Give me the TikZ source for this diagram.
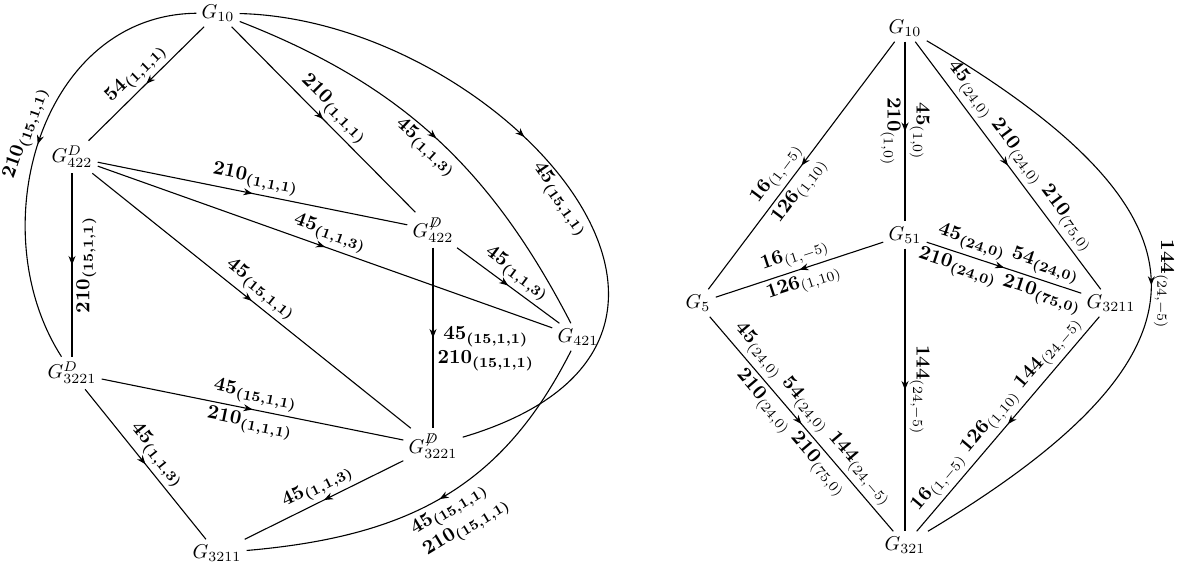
\documentclass[tikz,border=0pt]{standalone}
\usepackage{amsmath}
\usetikzlibrary{arrows.meta,decorations.markings}
\newcommand{\qn}[2]{\ensuremath{\mathbf{#1}_{(#2)}}}
\newcommand{\qb}[2]{{\boldmath$#1_{(#2)}$}}
\begin{document}
\begin{tikzpicture}[x=0.5pt,y=-0.5pt,
 vtx/.style={inner sep=2.5pt},
 edg/.style={line width=0.55pt, postaction={decorate}, decoration={markings, mark=at position #1 with {\arrow{Stealth[length=4.5pt,width=3.5pt]}}}},
 edg/.default=0.5,
 lab/.style={inner sep=2pt},
]
\useasboundingbox (0,0) rectangle (1181,564);
% left graph
\node[vtx] (L10) at (218,13) {$G_{10}$};
\node[vtx] (L422D) at (72,157) {$G_{422}^{D}$};
\node[vtx] (L422N) at (433,230) {$G_{422}^{\not D}$};
\node[vtx] (L421) at (578,337) {$G_{421}$};
\node[vtx] (L3221D) at (72,373) {$G_{3221}^{D}$};
\node[vtx] (L3221N) at (433,446) {$G_{3221}^{\not D}$};
\node[vtx] (L3211) at (217,553) {$G_{3211}$};

\draw[edg] (L10) -- (L422D) node[lab,sloped,above,midway]{\qb{54}{1,1,1}};
\draw[edg] (L10) .. controls (40,15) and (-20,230) .. (L3221D) node[lab,sloped,above,pos=0.5]{\qb{210}{15,1,1}};
\draw[edg] (L10) -- (L422N) node[lab,sloped,above,midway]{\qb{210}{1,1,1}};
\draw[edg] (L10) .. controls (400,84) and (490,167) .. (L421) node[lab,sloped,below,pos=0.5]{\qb{45}{1,1,3}};
\draw[edg=0.44] (L10) .. controls (500,20) and (790,340) .. (L3221N) node[lab,sloped,below,pos=0.5]{\qb{45}{15,1,1}};
\draw[edg] (L422D) -- (L3221D) node[lab,midway,rotate=90,anchor=north]{\qb{210}{15,1,1}};
\draw[edg] (L422D) -- (L422N) node[lab,sloped,above,midway]{\qb{210}{1,1,1}};
\draw[edg] (L422D) -- (L421) node[lab,sloped,above,midway]{\qb{45}{1,1,3}};
\draw[edg] (L422D) -- (L3221N) node[lab,sloped,above,midway]{\qb{45}{15,1,1}};
\draw[edg] (L422N) -- (L421) node[lab,sloped,above,midway]{\qb{45}{1,1,3}};
\draw[edg] (L422N) -- (L3221N) node[lab,right,align=center,pos=0.56]{\qb{45}{15,1,1}\\\qb{210}{15,1,1}};
\draw[edg] (L421) .. controls (504,483) and (415,536) .. (L3211) node[lab,sloped,below,align=left,pos=0.5]{\qb{45}{15,1,1}\\\qb{210}{15,1,1}};
\draw[edg] (L3221D) -- (L3221N) node[lab,sloped,above,midway]{\qb{45}{15,1,1}} node[lab,sloped,below,midway]{\qb{210}{1,1,1}};
\draw[edg] (L3221D) -- (L3211) node[lab,sloped,above,midway]{\qb{45}{1,1,3}};
\draw[edg] (L3221N) -- (L3211) node[lab,sloped,above,midway]{\qb{45}{1,1,3}};

% right graph
\node[vtx] (R10) at (905,28) {$G_{10}$};
\node[vtx] (R51) at (905,235) {$G_{51}$};
\node[vtx] (R5) at (698,303) {$G_{5}$};
\node[vtx] (R3211) at (1111,303) {$G_{3211}$};
\node[vtx] (R321) at (905,545) {$G_{321}$};

\draw[edg] (R10) -- (R5) node[lab,sloped,above,pos=0.57]{\qn{16}{1,-5}} node[lab,sloped,below,pos=0.57]{\qn{126}{1,10}};
\draw[edg] (R10) -- (R51) node[lab,midway,rotate=-90,anchor=north]{\qn{210}{1,0}} node[lab,midway,rotate=-90,anchor=south]{\qn{45}{1,0}};
\draw[edg] (R10) -- (R3211) node[lab,sloped,above,midway]{\qn{45}{24,0} \qn{210}{24,0} \qn{210}{75,0}};
\draw[edg] (R10) .. controls (1225,216) and (1227,352) .. (R321) node[lab,inner sep=1pt,pos=0.5,rotate=-90,anchor=south]{\qn{144}{24,-5}};
\draw[edg] (R51) -- (R5) node[lab,sloped,above,midway]{\qn{16}{1,-5}} node[lab,sloped,below,midway]{\qn{126}{1,10}};
\draw[edg] (R51) -- (R3211) node[lab,sloped,above,midway]{\qb{45}{24,0} \qb{54}{24,0}} node[lab,sloped,below,midway]{\qb{210}{24,0} \qb{210}{75,0}};
\draw[edg] (R51) -- (R321) node[lab,midway,rotate=-90,anchor=south]{\qn{144}{24,-5}};
\draw[edg] (R5) -- (R321) node[lab,sloped,above,midway]{\qn{45}{24,0} \qn{54}{24,0} \qn{144}{24,-5}} node[lab,sloped,below,midway]{\qn{210}{24,0} \qn{210}{75,0}};
\draw[edg] (R3211) -- (R321) node[lab,sloped,above,midway]{\qn{16}{1,-5} \qn{126}{1,10} \qn{144}{24,-5}};
\end{tikzpicture}
\end{document}
